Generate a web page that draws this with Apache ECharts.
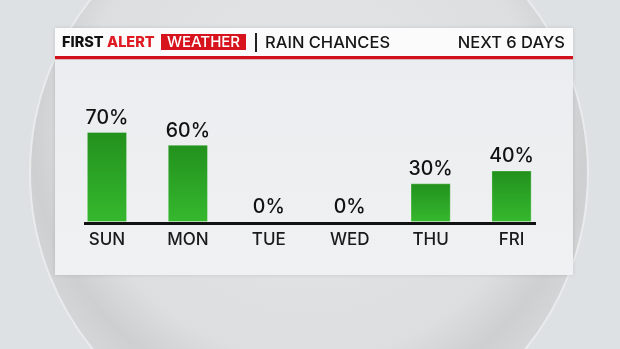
<!DOCTYPE html>
<html>
<head>
<meta charset="utf-8">
<script src="https://cdn.jsdelivr.net/npm/echarts@6/dist/echarts.min.js"></script>
<style>
html,body{margin:0;padding:0;background:#dde1e3;}
#chart{width:620px;height:349px;}
</style>
</head>
<body>
<div id="chart"></div>
<script>
var categories = ['SUN', 'MON', 'TUE', 'WED', 'THU', 'FRI'];
var rainChance = [70, 60, 0, 0, 30, 40];
var titleLeft = 'FIRST';
var titleRed = 'ALERT';
var titleBox = 'WEATHER';
var titleMain = 'RAIN CHANCES';
var titleRight = 'NEXT 6 DAYS';

var FONT = 'Inter, "Open Sans", sans-serif';
var chart = echarts.init(document.getElementById('chart'), null, {renderer: 'canvas'});

var option = {
  animation: false,
  backgroundColor: '#dde1e3',
  graphic: [
    {type: 'circle', z: -10, shape: {cx: 309, cy: 173, r: 279},
      style: {fill: new echarts.graphic.RadialGradient(0.5, 0.42, 0.55, [
        {offset: 0, color: '#e4e6e7'}, {offset: 0.75, color: '#dcdedf'}, {offset: 0.9, color: '#cdcfd0'}, {offset: 1, color: '#d4d6d7'}]),
        stroke: '#e9ebec', lineWidth: 2}},
    {type: 'rect', z: -5, shape: {x: 55, y: 28, width: 518, height: 247},
      style: {fill: new echarts.graphic.LinearGradient(0, 0, 0, 1, [
        {offset: 0, color: '#eaedef'}, {offset: 1, color: '#eff1f2'}]),
        shadowBlur: 4, shadowColor: 'rgba(0,0,0,0.12)'}},
    {type: 'rect', z: -4, shape: {x: 55, y: 28, width: 518, height: 28}, style: {fill: '#fbfbfb'}},
    {type: 'rect', z: -4, shape: {x: 55, y: 56, width: 518, height: 3.2}, style: {fill: '#d0111b'}},
    {type: 'text', z: 5, x: 62, y: 42.5, style: {text: titleLeft, font: '800 14.5px ' + FONT, fill: '#111', textVerticalAlign: 'middle'}},
    {type: 'text', z: 5, x: 107, y: 42.5, style: {text: titleRed, font: '800 14.5px ' + FONT, fill: '#e01a22', textVerticalAlign: 'middle'}},
    {type: 'rect', z: 4, shape: {x: 161, y: 34, width: 85, height: 16}, style: {fill: '#d7141d'}},
    {type: 'text', z: 5, x: 203.5, y: 42.5, style: {text: titleBox, font: '500 15px ' + FONT, fill: '#ffffff', textAlign: 'center', textVerticalAlign: 'middle'}},
    {type: 'rect', z: 4, shape: {x: 255, y: 33, width: 2, height: 19}, style: {fill: '#222'}},
    {type: 'text', z: 5, x: 265, y: 43, style: {text: titleMain, font: '500 16.5px ' + FONT, fill: '#161616', textVerticalAlign: 'middle'}},
    {type: 'text', z: 5, x: 565, y: 43, style: {text: titleRight, font: '500 16.5px ' + FONT, fill: '#161616', textAlign: 'right', textVerticalAlign: 'middle'}},
    {type: 'rect', z: 10, shape: {x: 84, y: 222, width: 452, height: 3}, style: {fill: '#111'}}
  ],
  grid: {left: 66.5, right: 68, top: 93.5, bottom: 127, containLabel: false},
  xAxis: {
    type: 'category', data: categories,
    axisLine: {show: false}, axisTick: {show: false},
    axisLabel: {margin: 9, color: '#1a1a1a', fontFamily: FONT, fontSize: 17, fontWeight: 500}
  },
  yAxis: {type: 'value', min: 0, max: 100, show: false, splitLine: {show: false}},
  series: [{
    type: 'bar', data: rainChance, barWidth: 40,
    itemStyle: {color: new echarts.graphic.LinearGradient(0, 0, 0, 1, [
      {offset: 0, color: '#22911d'}, {offset: 1, color: '#36b82e'}]),
      borderColor: 'rgba(255,255,255,0.35)', borderWidth: 0.8},
    label: {show: true, position: 'top', distance: 4, formatter: '{c}%', color: '#111',
      fontFamily: FONT, fontSize: 19.5, fontWeight: 500}
  }]
};
chart.setOption(option);
</script>
</body>
</html>
